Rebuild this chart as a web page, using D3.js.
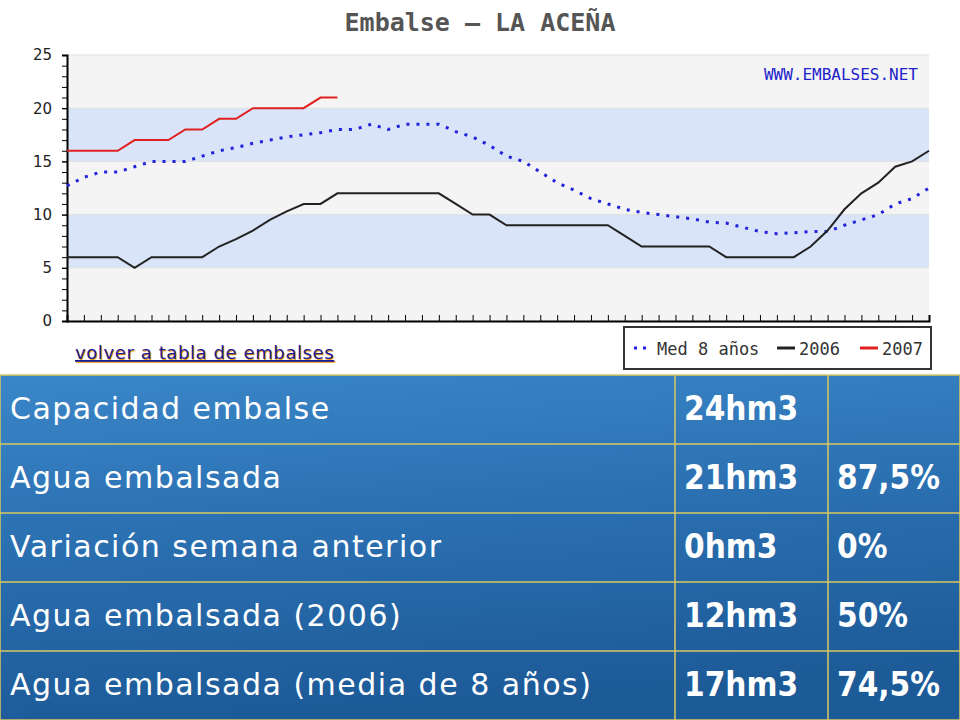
<!DOCTYPE html>
<html><head><meta charset="utf-8">
<script src="https://cdn.jsdelivr.net/npm/d3@7"></script>
<style>body{margin:0;background:#fff;overflow:hidden}</style>
</head><body>
<svg id="c" width="960" height="720"></svg>
<script>
const yTicks=[0,5,10,15,20,25];
const med=[12.7,13.5,14,14,14.5,15,15,15,15.5,16,16.3,16.7,17,17.3,17.5,17.7,18,18,18.5,18,18.5,18.5,18.5,17.8,17.3,16.5,15.5,15,14,13,12.3,11.5,11,10.5,10.2,10,9.8,9.6,9.3,9.2,8.8,8.4,8.2,8.3,8.4,8.4,9,9.5,10,11,11.5,12.5];
const y2006=[6,6,6,6,5,6,6,6,6,7,7.7,8.5,9.5,10.3,11,11,12,12,12,12,12,12,12,11,10,10,9,9,9,9,9,9,9,8,7,7,7,7,7,6,6,6,6,6,7,8.5,10.5,12,13,14.5,15,16];
const y2007=[16,16,16,16,17,17,17,18,18,19,19,20,20,20,20,21,21];
const legendLabels=["Med 8 años","2006","2007"];
const tableRows=[["Capacidad embalse","24hm3",""],["Agua embalsada","21hm3","87,5%"],["Variación semana anterior","0hm3","0%"],["Agua embalsada (2006)","12hm3","50%"],["Agua embalsada (media de 8 años)","17hm3","74,5%"]];

const svg=d3.select("#c");
const x=d3.scaleLinear().domain([0,51]).range([67,929]);
const y=d3.scaleLinear().domain([0,25]).range([321,55]);
svg.append("text").attr("x",480).attr("y",31).attr("text-anchor","middle").attr("font-family","DejaVu Sans Mono").attr("font-weight","bold").attr("font-size",25).attr("fill","#555").text("Embalse – LA ACEÑA");
svg.append("rect").attr("x",67).attr("y",y(25)).attr("width",862).attr("height",y(0)-y(25)).attr("fill","#f4f4f4");
[[5,10],[15,20]].forEach(b=>svg.append("rect").attr("x",67).attr("y",y(b[1])).attr("width",862).attr("height",y(b[0])-y(b[1])).attr("fill","#d9e4f8"));
yTicks.forEach(t=>svg.append("line").attr("x1",67).attr("x2",929).attr("y1",y(t)).attr("y2",y(t)).attr("stroke","#e0e0e0"));
const ya=svg.append("g").attr("transform","translate(67,0)").call(d3.axisLeft(y).tickValues(yTicks).tickSize(5).tickPadding(10));
ya.selectAll("text").attr("font-family","DejaVu Sans").attr("font-size",15).attr("fill","#222");
svg.append("g").attr("transform","translate(67,0)").call(d3.axisLeft(y).ticks(25).tickSize(5).tickFormat(""));
ya.select(".domain").attr("stroke-width",2);
svg.append("g").attr("transform","translate(0,321)").call(d3.axisTop(x).ticks(51).tickSize(6).tickFormat("")).select(".domain").attr("stroke-width",2);
const line=d3.line().x((d,i)=>x(i)).y(d=>y(d));
svg.append("path").datum(med).attr("d",line).attr("fill","none").attr("stroke","#2222dd").attr("stroke-width",3).attr("stroke-dasharray","3,7");
svg.append("path").datum(y2006).attr("d",line).attr("fill","none").attr("stroke","#222").attr("stroke-width",2);
svg.append("path").datum(y2007).attr("d",line).attr("fill","none").attr("stroke","#e02020").attr("stroke-width",2);
svg.append("text").attr("x",918).attr("y",80).attr("text-anchor","end").attr("font-family","DejaVu Sans Mono").attr("font-size",16).attr("fill","#2222cc").text("WWW.EMBALSES.NET");
svg.append("rect").attr("x",624).attr("y",327).attr("width",307).attr("height",42).attr("fill","#fff").attr("stroke","#333").attr("stroke-width",2);
svg.append("line").attr("x1",634).attr("x2",652).attr("y1",348).attr("y2",348).attr("stroke","#2222dd").attr("stroke-width",3).attr("stroke-dasharray","3,6");
svg.append("line").attr("x1",777).attr("x2",795).attr("y1",348).attr("y2",348).attr("stroke","#222").attr("stroke-width",3);
svg.append("line").attr("x1",860).attr("x2",878).attr("y1",348).attr("y2",348).attr("stroke","#e02020").attr("stroke-width",3);
[[657,0],[799,1],[882,2]].forEach(p=>svg.append("text").attr("x",p[0]).attr("y",355).attr("font-family","DejaVu Sans Mono").attr("font-size",17).attr("fill","#333").text(legendLabels[p[1]]));
svg.append("text").attr("x",76).attr("y",360).attr("font-family","DejaVu Sans").attr("font-size",18).attr("letter-spacing",0.6).attr("fill","#f0a000").attr("text-decoration","underline").text("volver a tabla de embalses");
svg.append("text").attr("x",75).attr("y",359).attr("font-family","DejaVu Sans").attr("font-size",18).attr("letter-spacing",0.6).attr("fill","#1a1aa0").attr("text-decoration","underline").text("volver a tabla de embalses");
const defs=svg.append("defs");
const g=defs.append("linearGradient").attr("id","sea").attr("x1",0).attr("y1",0).attr("x2",0.2).attr("y2",1);
g.append("stop").attr("offset",0).attr("stop-color","#3a86c8");
g.append("stop").attr("offset",0.5).attr("stop-color","#2a6fb0");
g.append("stop").attr("offset",1).attr("stop-color","#1d5a98");
svg.append("rect").attr("x",0).attr("y",375).attr("width",960).attr("height",345).attr("fill","url(#sea)");
const cols=[0,675,828,960], rowY=d3.range(6).map(i=>375+i*69);
rowY.forEach(r=>svg.append("line").attr("x1",0).attr("x2",960).attr("y1",r).attr("y2",r).attr("stroke","#d8c860").attr("stroke-width",1.5));
cols.forEach(c=>svg.append("line").attr("x1",c).attr("x2",c).attr("y1",375).attr("y2",720).attr("stroke","#d8c860").attr("stroke-width",1.5));
tableRows.forEach((r,i)=>{
  svg.append("text").attr("x",10).attr("y",rowY[i]+44).attr("font-family","DejaVu Sans").attr("font-size",30).attr("letter-spacing",1.5).attr("fill","#fff").text(r[0]);
  svg.append("text").attr("x",684).attr("y",rowY[i]+45).attr("font-family","DejaVu Sans Condensed, DejaVu Sans").attr("font-weight","bold").attr("font-size",33).attr("fill","#fff").text(r[1]);
  svg.append("text").attr("x",837).attr("y",rowY[i]+45).attr("font-family","DejaVu Sans Condensed, DejaVu Sans").attr("font-weight","bold").attr("font-size",33).attr("fill","#fff").text(r[2]);
});
</script></body></html>
